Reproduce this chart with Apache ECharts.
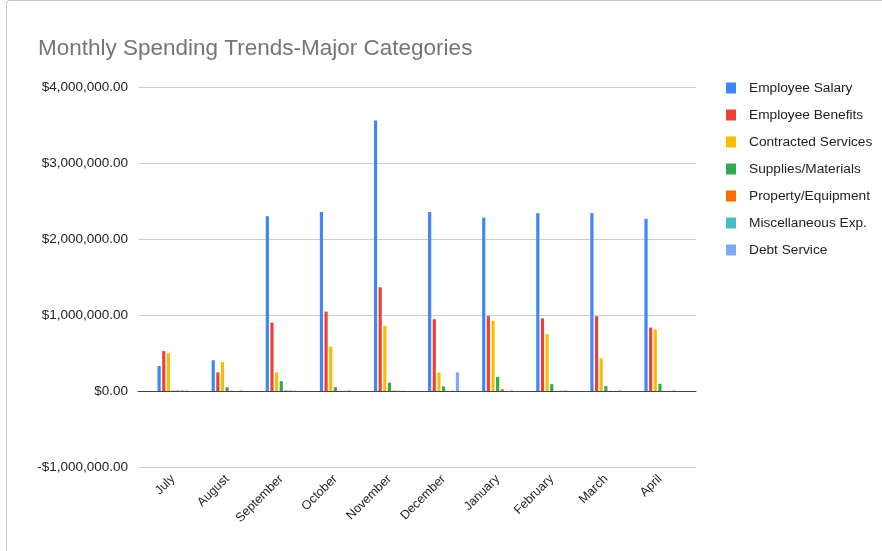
<!DOCTYPE html>
<html>
<head>
<meta charset="utf-8">
<script src="https://cdn.jsdelivr.net/npm/echarts@6/dist/echarts.min.js"></script>
<style>
html,body{margin:0;padding:0;background:#fff;}
#frame{position:absolute;left:6px;top:0;width:900px;height:560px;border-left:1px solid #c8c8c8;border-top:1px solid #c8c8c8;border-top-left-radius:4px;}
#chart{position:absolute;left:0;top:0;width:882px;height:551px;}
</style>
</head>
<body>
<div id="frame"></div>
<div id="chart"></div>
<script>
const months = ['July','August','September','October','November','December','January','February','March','April'];
const seriesNames = ['Employee Salary','Employee Benefits','Contracted Services','Supplies/Materials','Property/Equipment','Miscellaneous Exp.','Debt Service'];
const salary      = [330000, 405000, 2300000, 2355000, 3560000, 2355000, 2280000, 2340000, 2340000, 2265000];
const benefits    = [525000, 245000, 900000, 1045000, 1365000, 945000, 985000, 955000, 985000, 835000];
const contracted  = [500000, 380000, 245000, 585000, 855000, 245000, 925000, 750000, 430000, 810000];
const supplies    = [5000, 50000, 130000, 50000, 110000, 60000, 185000, 90000, 65000, 95000];
const property    = [8000, 5000, 8000, 3000, 6000, 2000, 25000, 3000, 3000, 3000];
const misc        = [8000, 2000, 8000, 3000, 3000, 5000, 3000, 3000, 3000, 3000];
const debt        = [8000, 8000, 5000, 10000, 5000, 245000, 8000, 8000, 8000, 8000];
const yTicks = {min: -1000000, max: 4000000, interval: 1000000};
const colors = ['#4285F4','#EA4335','#FBBC04','#34A853','#FF6D01','#46BDC6','#7BAAF7'];
const values = [salary, benefits, contracted, supplies, property, misc, debt];

function fmt(v){
  const s = '$' + Math.abs(v).toLocaleString('en-US',{minimumFractionDigits:2, maximumFractionDigits:2});
  return v < 0 ? '-' + s : s;
}

const chart = echarts.init(document.getElementById('chart'));
const font = 'Liberation Sans, Arial, sans-serif';
chart.setOption({
  animation:false,
  color: colors,
  title:{text:'Monthly Spending Trends-Major Categories', left:33, top:32,
    textStyle:{fontFamily:font, fontSize:22.5, fontWeight:'normal', color:'#757575'}},
  legend:{orient:'vertical', left:726, top:80, padding:0, icon:'rect', itemWidth:10, itemHeight:11, itemGap:11,
    textStyle:{fontFamily:font, fontSize:13.7, color:'#222', lineHeight:16, padding:[0,0,0,8]},
    data: seriesNames},
  grid:[
    {left:138, right:186, top:87, bottom:84},
    {left:146, right:195, top:87, bottom:84}
  ],
  xAxis:[
    {gridIndex:0, type:'category', data:months, axisLine:{onZero:true, lineStyle:{color:'#444', width:1}},
      axisTick:{show:false}, axisLabel:{show:false}},
    {gridIndex:1, type:'category', data:months, axisLine:{show:false, onZero:false}, axisTick:{show:false},
      axisLabel:{rotate:45, margin:10, fontFamily:font, fontSize:12.5, color:'#222', interval:0}}
  ],
  yAxis:[
    {gridIndex:0, type:'value', min:yTicks.min, max:yTicks.max, interval:yTicks.interval,
      axisLine:{show:false}, axisTick:{show:false},
      splitLine:{lineStyle:{color:'#cccccc', width:1}},
      axisLabel:{formatter:fmt, margin:10, fontFamily:font, fontSize:13.5, color:'#222'}},
    {gridIndex:1, type:'value', min:yTicks.min, max:yTicks.max, interval:yTicks.interval,
      show:false, splitLine:{show:false}}
  ],
  series: seriesNames.map((n,i)=>({
    name:n, type:'bar', xAxisIndex:1, yAxisIndex:1, data:values[i],
    barWidth:3.2, barGap:'45%', itemStyle:{color:colors[i]}
  }))
});
</script>
</body>
</html>
